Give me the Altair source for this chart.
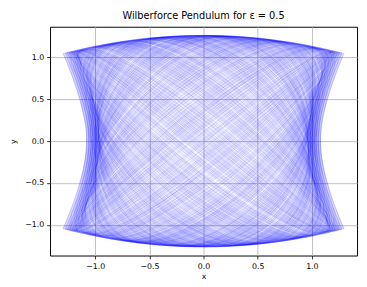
import numpy as np
import pandas as pd
import altair as alt

# ---- model parameters (values chosen to reproduce the trajectory envelope) ----
title_text = "Wilberforce Pendulum for \u03b5 = 0.5"
coupling = 0.2
omega_x = 0.9034
omega_y = 1.0966
# release points (x0, y0) at rest, read from the corners / inner bands of the figure
start_x = [1.30, 1.28, 1.26, 1.24, 1.22, 1.20, 1.18]
start_y = [1.05, 1.055, 1.06, 1.06, 1.065, 1.065, 1.07]
t_end = 520.0
dt = 0.03
keep_every = 4
chunk_len = 40

x_ticks = [-1.0, -0.5, 0.0, 0.5, 1.0]
y_ticks = [-1.0, -0.5, 0.0, 0.5, 1.0]
x_domain = [-1.417, 1.417]
y_domain = [-1.368, 1.368]


def deriv(x, y, vx, vy):
    return (vx, vy,
            -omega_x ** 2 * x - coupling * x * y * y,
            -omega_y ** 2 * y - coupling * y * x * x)


x = np.array(start_x, dtype=float)
y = np.array(start_y, dtype=float)
vx = np.zeros_like(x)
vy = np.zeros_like(x)
X = [x.copy()]
Y = [y.copy()]
for k in range(1, int(t_end / dt) + 1):
    a1 = deriv(x, y, vx, vy)
    a2 = deriv(x + 0.5 * dt * a1[0], y + 0.5 * dt * a1[1], vx + 0.5 * dt * a1[2], vy + 0.5 * dt * a1[3])
    a3 = deriv(x + 0.5 * dt * a2[0], y + 0.5 * dt * a2[1], vx + 0.5 * dt * a2[2], vy + 0.5 * dt * a2[3])
    a4 = deriv(x + dt * a3[0], y + dt * a3[1], vx + dt * a3[2], vy + dt * a3[3])
    x = x + dt / 6 * (a1[0] + 2 * a2[0] + 2 * a3[0] + a4[0])
    y = y + dt / 6 * (a1[1] + 2 * a2[1] + 2 * a3[1] + a4[1])
    vx = vx + dt / 6 * (a1[2] + 2 * a2[2] + 2 * a3[2] + a4[2])
    vy = vy + dt / 6 * (a1[3] + 2 * a2[3] + 2 * a3[3] + a4[3])
    if k % keep_every == 0:
        X.append(x.copy())
        Y.append(y.copy())
X = np.round(np.array(X), 4)
Y = np.round(np.array(Y), 4)

rows = []
seg = 0
n = X.shape[0]
for m in range(X.shape[1]):
    start = 0
    while start < n - 1:
        end = min(start + chunk_len, n - 1)
        for i in range(start, end + 1):
            rows.append((X[i, m], Y[i, m], seg, i))
        seg += 1
        start = end
df = pd.DataFrame(rows, columns=["x", "y", "seg", "i"])

alt.data_transformers.disable_max_rows()

chart = alt.Chart(df).mark_line(
    color="#0000ff", strokeWidth=0.5, opacity=0.1, clip=True
).encode(
    x=alt.X("x:Q", scale=alt.Scale(domain=x_domain, nice=False, zero=False),
            axis=alt.Axis(values=x_ticks, format=".1f", title="x",
                          labelPadding=3.5, titlePadding=3)),
    y=alt.Y("y:Q", scale=alt.Scale(domain=y_domain, nice=False, zero=False),
            axis=alt.Axis(values=y_ticks, format=".1f", title="y",
                          labelPadding=3, titlePadding=7)),
    detail="seg:N",
    order="i:Q",
).properties(
    width=314,
    height=234,
    title=alt.TitleParams(title_text, fontSize=10, fontWeight="normal",
                          font="DejaVu Sans", color="black", offset=6),
    autosize=alt.AutoSizeParams(type="none"),
    padding={"left": 43, "top": 16, "right": 2, "bottom": 29},
).configure_view(
    stroke="black", strokeWidth=1
).configure_axis(
    grid=True, gridColor="#b0b0b0", gridWidth=0.8, domain=False,
    tickColor="black", tickSize=3.5, tickWidth=0.8,
    labelFont="DejaVu Sans", labelFontSize=8, labelColor="black",
    titleFont="DejaVu Sans", titleFontSize=8, titleFontWeight="normal",
    titleColor="black",
)

chart.save("out.html", embed_options={"renderer": "svg", "actions": False})
